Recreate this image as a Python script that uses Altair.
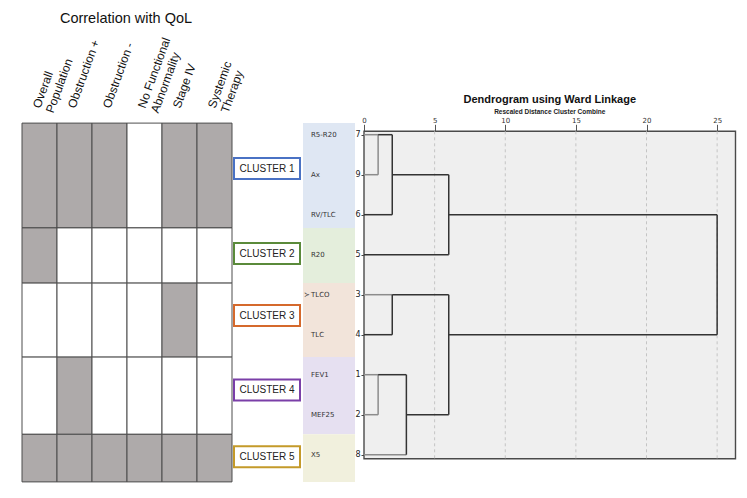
import altair as alt
import pandas as pd

# ---------------- data ----------------
columns = ["Overall\nPopulation", "Obstruction +", "Obstruction -",
           "No Functional\nAbnormality", "Stage IV", "Systemic\nTherapy"]
clusters = ["CLUSTER 1", "CLUSTER 2", "CLUSTER 3", "CLUSTER 4", "CLUSTER 5"]
# cluster boundaries in dendrogram row units (leaf rows are 0..8)
cluster_edges = [-0.29, 2.33, 3.71, 5.56, 7.49, 8.68]
cluster_label_rows = [0.845, 2.97, 4.52, 6.38, 8.05]
qol = [
    [1, 1, 1, 0, 1, 1],
    [1, 0, 0, 0, 0, 0],
    [0, 0, 0, 0, 1, 0],
    [0, 1, 0, 0, 0, 0],
    [1, 1, 1, 1, 1, 1],
]
variables = ["R5-R20", "Ax", "RV/TLC", "R20", "TLCO", "TLC", "FEV1", "MEF25", "X5"]
leaf_ids = ["7", "9", "6", "5", "3", "4", "1", "2", "8"]
marked_variable = "TLCO"

# dendrogram segments (rescaled distance, leaf row)
seg_x1 = [0, 0, 0, 0, 0, 0, 0, 0, 0, 1, 1, 2, 2, 6, 6, 2, 2, 1, 1, 3, 3, 6, 6, 25]
seg_x2 = [1, 1, 2, 6, 2, 2, 1, 1, 3, 1, 2, 2, 6, 6, 25, 2, 6, 1, 3, 3, 6, 6, 25, 25]
seg_y1 = [0, 1, 2, 3, 4, 5, 6, 7, 8, 0, 0, 0, 1, 1, 2, 4, 4, 6, 6, 6, 7, 4, 5, 2]
seg_y2 = [0, 1, 2, 3, 4, 5, 6, 7, 8, 1, 0, 2, 1, 3, 2, 5, 4, 7, 6, 8, 7, 7, 5, 5]
seg_kind = ["leaf", "leaf", "link", "link", "leaf", "link", "leaf", "leaf", "leaf",
            "leaf", "link", "link", "link", "link", "link", "link", "link", "leaf",
            "link", "link", "link", "link", "link", "link"]
dist_ticks = [0, 5, 10, 15, 20, 25]
grid_ticks = [5, 10, 15, 20, 25]

# ---------------- layout constants ----------------
ROW_DOMAIN = [-0.2925, 8.6825]
H = 359
W_A, W_B, W_C = 210, 132, 371.5
DIST_MAX = 26.3
FRAME_TOP, FRAME_BOTTOM = -0.085, 8.1
BOX_HALF = 0.2625

band_colors = ["#dfe7f3", "#e4eedc", "#f2e4da", "#e6e0f1", "#f1f0dd"]
box_colors = ["#4a72c4", "#5a8a3a", "#d5692c", "#7a3fa8", "#c49a2a"]

yscale = alt.Scale(domain=ROW_DOMAIN, reverse=True, nice=False, zero=False)

# ---------------- panel A: heatmap ----------------
heat_rows = []
for i, row in enumerate(qol):
    for j, v in enumerate(row):
        heat_rows.append({"c0": j, "c1": j + 1, "r0": cluster_edges[i],
                          "r1": cluster_edges[i + 1], "v": "yes" if v else "no"})
heat_df = pd.DataFrame(heat_rows)
xA = alt.Scale(domain=[0, len(columns)], nice=False, zero=False)

heat = alt.Chart(heat_df).mark_rect(stroke="#4d4d4d", strokeWidth=1).encode(
    x=alt.X("c0:Q", scale=xA, axis=None), x2="c1",
    y=alt.Y("r0:Q", scale=yscale, axis=None), y2="r1",
    fill=alt.Fill("v:N", scale=alt.Scale(domain=["yes", "no"], range=["#aeaaaa", "#ffffff"]),
                  legend=None),
)
hdr_df = pd.DataFrame({"pos": [j + 0.6 for j in range(len(columns))], "label": columns})
hdr = alt.Chart(hdr_df).mark_text(
    angle=290, align="left", baseline="bottom", lineBreak="\n", fontSize=12,
    font="Liberation Sans", lineHeight=14, color="#111"
).encode(x=alt.X("pos:Q", scale=xA, axis=None), y=alt.value(-13), text="label:N")
titleA = alt.Chart(pd.DataFrame({"t": ["Correlation with QoL"]})).mark_text(
    fontSize=14.5, font="Liberation Sans", color="#111", baseline="middle"
).encode(x=alt.value(104), y=alt.value(-104.5), text="t:N")
panelA = alt.layer(heat, hdr, titleA).properties(width=W_A, height=H)

# ---------------- panel B: cluster boxes and bands ----------------
box_df = pd.DataFrame({"cluster": clusters, "yc": cluster_label_rows})
box_df["y0"] = box_df["yc"] - BOX_HALF
box_df["y1"] = box_df["yc"] + BOX_HALF
band_df = pd.DataFrame({"band": ["b" + c for c in clusters], "y0": cluster_edges[:-1],
                        "y1": cluster_edges[1:]})
var_df = pd.DataFrame({"var": variables, "row": list(range(len(variables)))})
mark_df = var_df[var_df["var"] == marked_variable].assign(sym="\u227b")

bands = alt.Chart(band_df).mark_rect().encode(
    x=alt.value(71), x2=alt.value(123),
    y=alt.Y("y0:Q", scale=yscale, axis=None), y2="y1",
    fill=alt.Fill("band:N", scale=alt.Scale(domain=["b" + c for c in clusters], range=band_colors),
                  legend=None),
)
boxes = alt.Chart(box_df).mark_rect(fill="white", strokeWidth=2).encode(
    x=alt.value(2), x2=alt.value(68),
    y=alt.Y("y0:Q", scale=yscale, axis=None), y2="y1",
    stroke=alt.Stroke("cluster:N", scale=alt.Scale(domain=clusters, range=box_colors), legend=None),
)
box_txt = alt.Chart(box_df).mark_text(fontSize=10, font="Liberation Sans", color="#222").encode(
    x=alt.value(35), y=alt.Y("yc:Q", scale=yscale, axis=None), text="cluster:N")
var_txt = alt.Chart(var_df).mark_text(align="left", fontSize=7, font="DejaVu Sans", color="#333").encode(
    x=alt.value(79), y=alt.Y("row:Q", scale=yscale, axis=None), text="var:N")
marker = alt.Chart(mark_df).mark_text(align="left", fontSize=7, font="DejaVu Sans", color="#333").encode(
    x=alt.value(72), y=alt.Y("row:Q", scale=yscale, axis=None), text="sym:N")
panelB = alt.layer(bands, boxes, box_txt, var_txt, marker).properties(width=W_B, height=H)

# ---------------- panel C: dendrogram ----------------
xC = alt.Scale(domain=[0, DIST_MAX], nice=False, zero=False)
label_expr = "[" + ",".join("'%s'" % s for s in leaf_ids) + "][datum.value]"
x_axis = alt.Axis(orient="top", values=dist_ticks, title=None, grid=False, domain=False,
                  tickSize=7, tickColor="#555", labelFontSize=7, labelFont="DejaVu Sans",
                  labelColor="#333", labelPadding=1, labelFlush=False, offset=-8.3)
y_axis = alt.Axis(values=list(range(len(leaf_ids))), labelExpr=label_expr, title=None,
                  grid=False, domain=False, tickSize=3, tickColor="#444", labelFontSize=8,
                  labelFont="DejaVu Sans", labelColor="#222", labelPadding=1)

frame_df = pd.DataFrame({"x0": [0], "x1": [DIST_MAX], "y0": [FRAME_TOP], "y1": [FRAME_BOTTOM]})
frame = alt.Chart(frame_df).mark_rect(fill="#efefef", stroke="#4a4a4a", strokeWidth=1.4).encode(
    x=alt.X("x0:Q", scale=xC, axis=x_axis), x2="x1",
    y=alt.Y("y0:Q", scale=yscale, axis=y_axis), y2="y1")

grid_df = pd.DataFrame({"gx": grid_ticks, "y0": FRAME_TOP, "y1": FRAME_BOTTOM})
grid = alt.Chart(grid_df).mark_rule(color="#c4c4c4", strokeDash=[3, 3], strokeWidth=1).encode(
    x=alt.X("gx:Q", scale=xC, axis=x_axis),
    y=alt.Y("y0:Q", scale=yscale, axis=y_axis), y2="y1")

seg_df = pd.DataFrame({"x1": seg_x1, "x2": seg_x2, "y1": seg_y1, "y2": seg_y2, "kind": seg_kind})
segs = alt.Chart(seg_df).mark_rule(strokeWidth=1.5).encode(
    x=alt.X("x1:Q", scale=xC, axis=x_axis), x2="x2",
    y=alt.Y("y1:Q", scale=yscale, axis=y_axis), y2="y2",
    stroke=alt.Stroke("kind:N", scale=alt.Scale(domain=["leaf", "link"], range=["#8c8c8c", "#333333"]),
                      legend=None),
)
t1 = alt.Chart(pd.DataFrame({"t": ["Dendrogram using Ward Linkage"]})).mark_text(
    fontSize=11, font="Liberation Sans", fontWeight="bold", color="#111", baseline="middle"
).encode(x=alt.value(W_C / 2), y=alt.value(-23.5), text="t:N")
t2 = alt.Chart(pd.DataFrame({"t": ["Rescaled Distance Cluster Combine"]})).mark_text(
    fontSize=6.5, font="Liberation Sans", fontWeight="bold", color="#222", baseline="middle"
).encode(x=alt.value(W_C / 2), y=alt.value(-11.5), text="t:N")
panelC = alt.layer(frame, grid, segs, t1, t2).properties(width=W_C, height=H)

chart = alt.hconcat(panelA, panelB, panelC, spacing=0, bounds="flush").resolve_scale(
    fill="independent", stroke="independent", color="independent"
).properties(
    padding={"left": 13, "top": 2, "right": 0, "bottom": 0}
).configure_view(stroke=None)

chart.save("out.html", embed_options={"renderer": "svg", "actions": False})
